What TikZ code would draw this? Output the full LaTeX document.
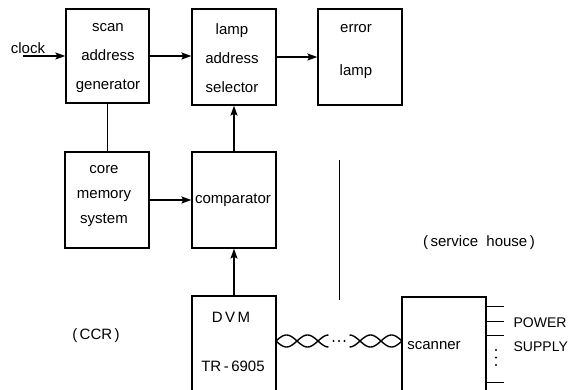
\documentclass[tikz,border=0pt]{standalone}
\usepackage{fontspec}
\setmainfont{Liberation Sans}
\usetikzlibrary{arrows.meta}
\begin{document}
\begin{tikzpicture}[x=1pt,y=-1pt, line width=1.3pt,
  box/.style={draw, line width=1.3pt, inner sep=0pt},
  lbl/.style={font=\fontsize{15}{29}\selectfont, align=center, inner sep=0pt},
  capslbl/.style={font=\fontsize{14}{20}\selectfont, anchor=west, inner sep=0pt},
  arr/.style={-{Stealth[length=10pt,width=7pt,inset=2pt]}},
  wire/.style={line width=1.4pt},
  smalldot/.style={circle, fill, inner sep=0pt, minimum size=2.2pt}
]
\clip (0,0) rectangle (571,390);
% boxes
\node[box, minimum width=83pt, minimum height=94pt] (scan) at (107.5,56) {};
\node[box, minimum width=84pt, minimum height=96pt] (lamp) at (234,57) {};
\node[box, minimum width=84pt, minimum height=96pt] (error) at (360,57) {};
\node[box, minimum width=84pt, minimum height=96pt] (core) at (107,200) {};
\node[box, minimum width=84pt, minimum height=96pt] (comp) at (234,200) {};
\node[box, minimum width=84pt, minimum height=120pt] (dvm) at (234,356) {};
\node[box, minimum width=84pt, minimum height=120pt] (scanner) at (444,357) {};
% texts
\node[lbl] (tscan) at (108,58) {scan\\address\\generator};
\node[lbl] (tlamp) at (232,58.5) {lamp\\address\\selector};
\node[lbl, font=\fontsize{15}{43}\selectfont] (terr) at (356,51.5) {error\\lamp};
\node[lbl, font=\fontsize{15}{25}\selectfont] (tcore) at (104,196) {core\\memory\\system};
\node[lbl] (tcomp) at (233,200) {comparator};
\node[lbl] (tdvm1) at (231,317) {D\,V\,M};
\node[lbl] (tdvm2) at (233,366) {TR\,-\,6905};
\node[lbl] (tscanner) at (434,346) {scanner};
\node[capslbl] (tpower) at (513,323) {POWER};
\node[capslbl] (tsupply) at (513,347) {SUPPLY};
\node[lbl] (tclock) at (28,48) {clock};
\node[lbl] (tsh) at (479,243) {(\,service\ \ house\,)};
\node[lbl] (tccr) at (96,336) {(\,CCR\,)};
% connectors
\coordinate (clk) at (23,56);
\draw[arr] (clk) -- (clk -| scan.west);
\draw[arr] (scan.east) -- (scan.east -| lamp.west);
\draw[arr] (lamp.east) -- (lamp.east -| error.west);
\draw[arr] (comp.north) -- (lamp.south);
\draw[arr] (core.east) -- (core.east -| comp.west);
\draw[arr] (dvm.north) -- (comp.south);
\draw (scan.south) -- (scan.south |- core.north);
% separator
\coordinate (sepA) at (339,160);
\coordinate (sepB) at (339,300);
\draw[line width=0.7pt] (sepA) -- (sepB);
% twisted pair
\draw[wire] plot[domain=276:328.5, samples=50, smooth] (\x,{341-6*sin(180*(\x-276)/21)});
\draw[wire] plot[domain=276:328.5, samples=50, smooth] (\x,{341+6*sin(180*(\x-276)/21)});
\draw[wire] plot[domain=349.5:402, samples=50, smooth] (\x,{341-6*sin(180*(\x-402)/21)});
\draw[wire] plot[domain=349.5:402, samples=50, smooth] (\x,{341+6*sin(180*(\x-402)/21)});
\node[smalldot] (d1) at (333.5,341) {};
\node[smalldot] (d2) at (339,341) {};
\node[smalldot] (d3) at (344.5,341) {};
% scanner leads
\foreach \dy in {10,25,39,86}
  \draw[wire] ([yshift=-\dy pt]scanner.north east) -- ++(17,0);
\node[smalldot] (v1) at (496,350) {};
\node[smalldot] (v2) at (496,357.5) {};
\node[smalldot] (v3) at (496,365) {};
\end{tikzpicture}
\end{document}
